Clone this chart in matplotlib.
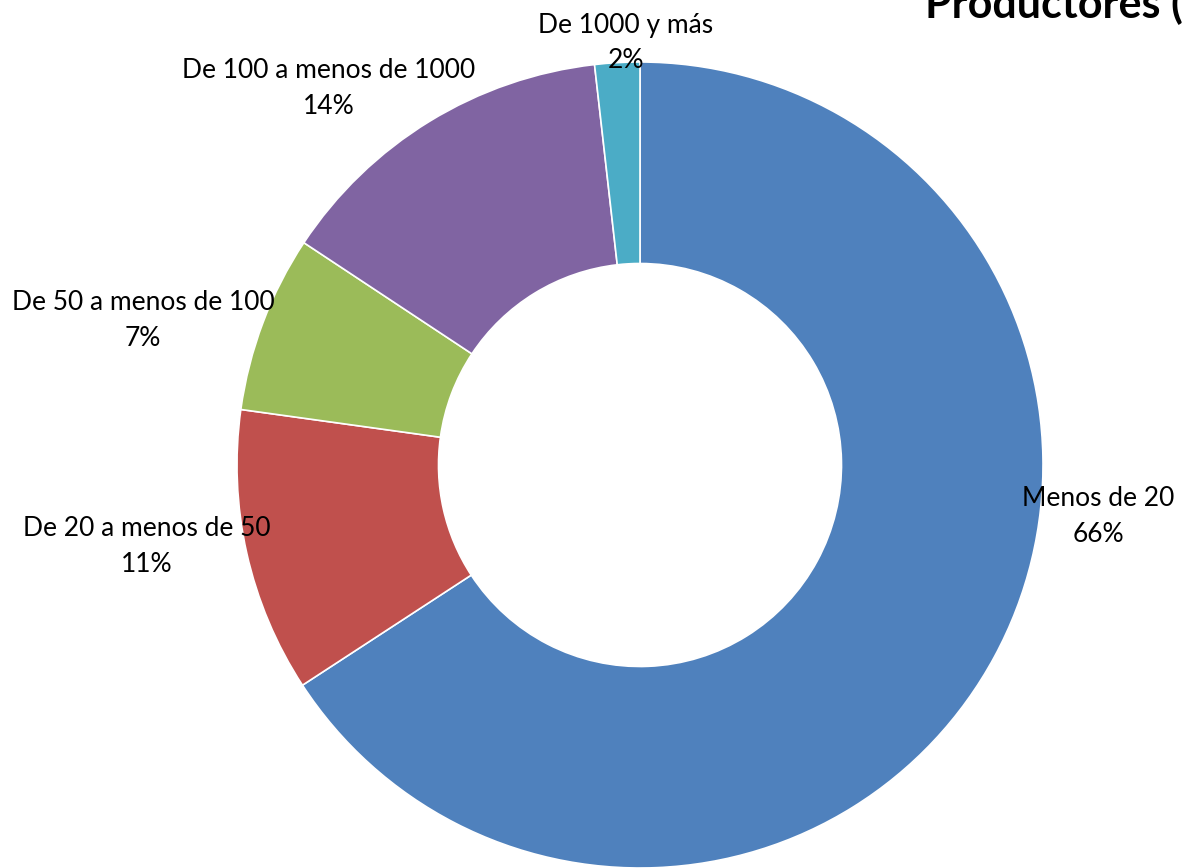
import matplotlib
matplotlib.use('Agg')
import matplotlib.pyplot as plt

plt.rcParams['font.family'] = ['Lato', 'DejaVu Sans']

categories = ['Menos de 20', 'De 20 a menos de 50', 'De 50 a menos de 100',
              'De 100 a menos de 1000', 'De 1000 y más']
shares = [65.8, 11.4, 7.1, 13.9, 1.8]
colors = ['#4F81BD', '#C0504D', '#9BBB59', '#8064A2', '#4BACC6']

# label centres in figure pixels (x, y from top)
label_pos = [(1098, 516), (147, 546), (143, 321), (329, 89), (626, 43)]

W, H = 1185, 868
fig = plt.figure(figsize=(W / 100, H / 100), dpi=100)
ax = fig.add_axes([237 / W, 0, 806 / W, 806 / H])

ax.pie(shares, colors=colors, startangle=90, counterclock=False, radius=1,
       wedgeprops=dict(width=0.5, edgecolor='white', linewidth=1.2))
ax.set_xlim(-1, 1)
ax.set_ylim(-1, 1)
ax.set_aspect('equal')
ax.axis('off')

for cat, val, (px, py) in zip(categories, shares, label_pos):
    fig.text(px / W, 1 - py / H, f'{cat}\n{val:.0f}%', ha='center', va='center',
             fontsize=19, linespacing=1.55)

# title runs off the top/right edge in the original as well
fig.text(925 / W, 1 - 18 / H, 'Productores (', fontsize=31, fontweight='bold',
         va='baseline', ha='left')

fig.savefig('out.png', dpi=100)
